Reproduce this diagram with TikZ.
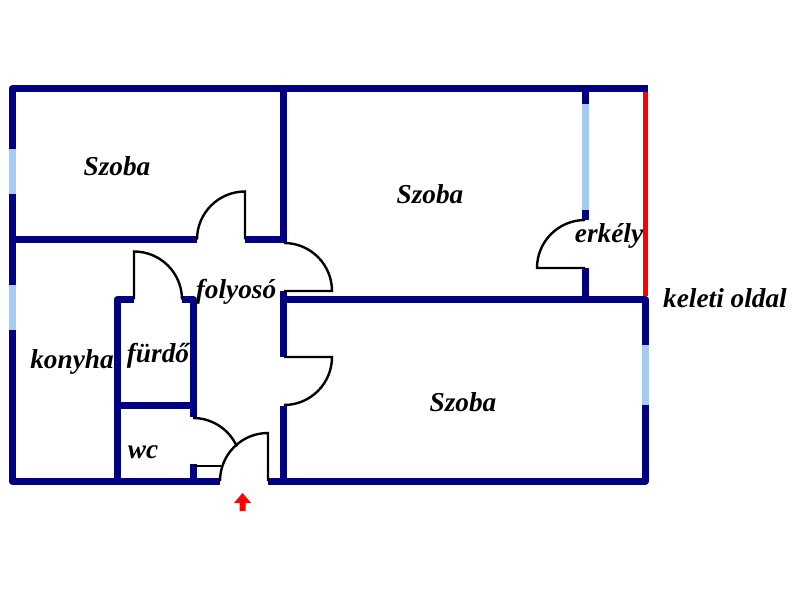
\documentclass[tikz,border=0pt]{standalone}
\usepackage{xcolor}
\usepackage{fontspec}
\setmainfont{Liberation Serif}
\definecolor{wallblue}{RGB}{0,0,128}
\definecolor{windowblue}{RGB}{166,202,240}
\tikzset{
  wall/.style={draw=wallblue,line width=7pt,line join=round},
  window/.style={draw=windowblue,line width=7pt},
  door/.style={draw=black,line width=2.4pt},
  label/.style={font=\fontsize{27.3}{27.3}\selectfont\bfseries\itshape,inner sep=0pt}
}
\begin{document}
\begin{tikzpicture}[x=1pt,y=1pt]
    \useasboundingbox (0,0) rectangle (800,600);

    % Falak
    \draw[wall] (648,511) -- (12,511) -- (12,119) -- (220,119);
    \draw[wall] (268,119) -- (645.5,119) -- (645.5,300.5) -- (283.5,300.5);
    \draw[wall] (12,360.5) -- (197,360.5);
    \draw[wall] (245,360.5) -- (283.5,360.5);
    \draw[wall] (283.5,511) -- (283.5,357);
    \draw[wall] (283.5,309) -- (283.5,243);
    \draw[wall] (283.5,194) -- (283.5,119);
    \draw[wall] (585,511) -- (585,380);
    \draw[wall] (585,332) -- (585,300.5);
    \draw[wall] (134,300.5) -- (117,300.5) -- (117,119);
    \draw[wall] (182,300.5) -- (193,300.5) -- (193,183);
    \draw[wall] (117,194) -- (193,194);
    \draw[wall] (193,136) -- (193,119);

    % Ablakok
    \draw[window] (12,451) -- (12,406);
    \draw[window] (12,315) -- (12,270);
    \draw[window] (585,496) -- (585,390);
    \draw[window] (645.5,255) -- (645.5,195);

    % Keleti oldal
    \draw[red,line width=4.5pt] (645.5,507.5) -- (645.5,304);

    % Ajtok
    \draw[door] (197,360.5) arc[start angle=180,end angle=90,radius=48] -- (245,360.5);
    \draw[door] (284,357) arc[start angle=90,end angle=0,radius=48] -- (284,309);
    \draw[door] (134,300.5) -- (134,348.5) arc[start angle=90,end angle=0,radius=48];
    \draw[door] (284,243) -- (332,243) arc[start angle=0,end angle=-90,radius=48];
    \draw[door] (193,134) -- (221,134);
    \draw[door] (193,182) arc[start angle=90,end angle=24,radius=48];
    \draw[door] (220,119) arc[start angle=180,end angle=90,radius=48] -- (268,119);
    \draw[door] (585,380) arc[start angle=90,end angle=180,radius=48] -- (585,332);

    % Bejarat
    \fill[red] (242.5,107) -- (251,97) -- (245.5,97) -- (245.5,89) -- (239.5,89) -- (239.5,97) -- (234,97) -- cycle;

    % Szobak
    \node[label] (szoba1) at (117,434) {Szoba};
    \node[label] (szoba2) at (430,406) {Szoba};
    \node[label] (szoba3) at (463,198) {Szoba};
    \node[label] (konyha) at (72,238.5) {konyha};
    \node[label] (furdo) at (158,244) {fürdő};
    \node[label] (wc) at (143,148) {wc};
    \node[label] (folyoso) at (236,308) {folyosó};
    \node[label] (erkely) at (609,364) {erkély};
    \node[label] (keleti) at (725,301.5) {keleti oldal};
\end{tikzpicture}
\end{document}
